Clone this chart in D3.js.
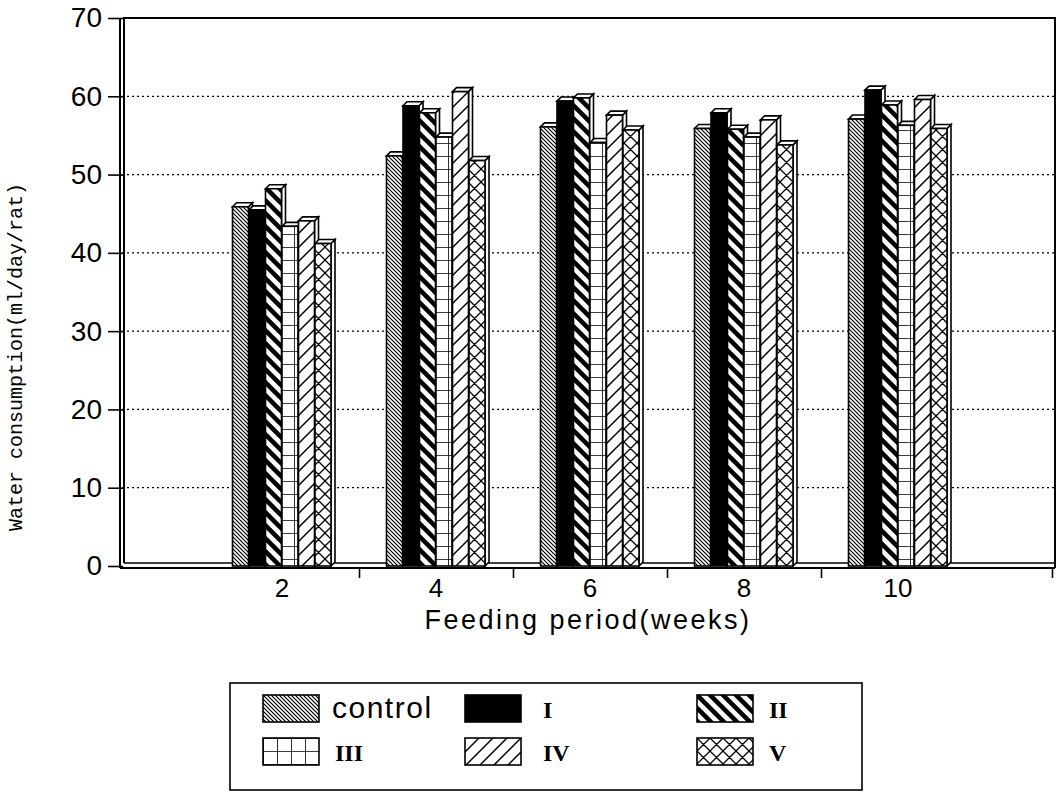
<!DOCTYPE html>
<html>
<head>
<meta charset="utf-8">
<script src="https://cdn.jsdelivr.net/npm/d3@7"></script>
<style>
  body { margin: 0; background: #fff; }
  svg { display: block; }
</style>
</head>
<body>
<div id="chart"></div>
<script>
// values
const weeks = [2, 4, 6, 8, 10];
const groups = ["control", "I", "II", "III", "IV", "V"];
const control = [46.4, 52.9, 56.6, 56.4, 57.6];
const g1 = [46.0, 59.3, 59.9, 58.4, 61.3];
const g2 = [48.7, 58.4, 60.3, 56.3, 59.4];
const g3 = [43.9, 55.3, 54.6, 55.3, 56.8];
const g4 = [44.6, 61.1, 58.1, 57.5, 60.1];
const g5 = [41.7, 52.3, 56.2, 54.3, 56.4];
const series = [control, g1, g2, g3, g4, g5];
const yTicks = [0, 10, 20, 30, 40, 50, 60, 70];
const xTickMarks = [3, 5, 7, 9, 12];

const width = 1060, height = 807;
const plotLeft = 120, plotRight = 1055, plotTop = 18, plotBottom = 566;
const depth = 4;

const svg = d3.select("#chart").append("svg")
  .attr("width", width)
  .attr("height", height);

const x = d3.scaleLinear().domain([0, 12]).range([128, 1052]);
const y = d3.scaleLinear().domain([0, 70]).range([plotBottom, plotTop]);
const inner = d3.scaleBand().domain(groups).range([-49.5, 49.5]);

// hatch patterns
const defs = svg.append("defs");
function hatch(id, w, h, d, sw) {
  const p = defs.append("pattern")
    .attr("id", id)
    .attr("patternUnits", "userSpaceOnUse")
    .attr("width", w)
    .attr("height", h);
  p.append("rect").attr("width", w).attr("height", h).attr("fill", "#fff");
  p.append("path").attr("d", d).attr("stroke", "#000").attr("stroke-width", sw).attr("fill", "none");
}
hatch("p-control", 4, 4, "M0,0L4,4M-1,3L1,5M3,-1L5,1", 1.2);
hatch("p-II", 13, 13, "M0,0L13,13M-2,11L2,15M11,-2L15,2", 4.5);
hatch("p-III", 14, 13, "M0,0H14M0,0V13", 1.6);
hatch("p-IV", 14, 14, "M0,14L14,0M-1,1L1,-1M13,15L15,13", 1.5);
hatch("p-V", 13, 13, "M0,0L13,13M0,13L13,0M-1,12L1,14M12,-1L14,1M-1,1L1,-1M12,14L14,12", 1.3);

const fills = {
  control: "url(#p-control)",
  I: "#000",
  II: "url(#p-II)",
  III: "url(#p-III)",
  IV: "url(#p-IV)",
  V: "url(#p-V)"
};

// gridlines
svg.append("g")
  .selectAll("line")
  .data(yTicks.filter(t => t > 0 && t < 70))
  .join("line")
  .attr("x1", plotLeft + 2).attr("x2", plotRight)
  .attr("y1", d => y(d)).attr("y2", d => y(d))
  .attr("stroke", "#000")
  .attr("stroke-width", 1.3)
  .attr("stroke-dasharray", "2,3");

// frame
const frame = svg.append("g").attr("stroke", "#000").attr("fill", "none");
frame.append("path")
  .attr("d", `M${plotLeft + 4},${plotBottom - 3}V${plotTop}H${plotRight}V${plotBottom + 2}`)
  .attr("stroke-width", 2);
frame.append("line")
  .attr("x1", plotLeft + 4).attr("x2", plotRight)
  .attr("y1", plotBottom - 3).attr("y2", plotBottom - 3)
  .attr("stroke-width", 1.5);

// bars
const bars = svg.append("g");
weeks.forEach((w, wi) => {
  groups.forEach((g, gi) => {
    const v = series[gi][wi];
    const x0 = x(w) + inner(g);
    const bw = inner.bandwidth() - 0.5;
    const yt = y(v) + depth;
    const y0 = y(0);
    const b = bars.append("g").attr("stroke", "#000").attr("stroke-width", 1.6);
    b.append("path")
      .attr("d", `M${x0 + bw},${yt}L${x0 + bw + depth},${yt - depth}V${y0 - depth}L${x0 + bw},${y0}Z`)
      .attr("fill", "#fff");
    b.append("path")
      .attr("d", `M${x0},${yt}L${x0 + depth},${yt - depth}H${x0 + bw + depth}L${x0 + bw},${yt}Z`)
      .attr("fill", "#fff");
    b.append("rect")
      .attr("x", x0).attr("y", yt)
      .attr("width", bw).attr("height", y0 - yt)
      .attr("fill", fills[g]);
  });
});

// y axis
const yAxis = svg.append("g")
  .attr("transform", `translate(${plotLeft},0)`)
  .call(d3.axisLeft(y).tickValues(yTicks).tickSize(12).tickPadding(6));
yAxis.select(".domain").attr("stroke-width", 2).attr("d", `M0,${plotTop}V${plotBottom + 2}`);
yAxis.selectAll(".tick line").attr("x2", -12).attr("x1", 3).attr("stroke-width", 1.6);
yAxis.selectAll("text")
  .attr("font-family", "Liberation Sans, Arial, sans-serif")
  .attr("font-size", 28)
  .attr("fill", "#000");

// x axis
const xAxis = svg.append("g")
  .attr("transform", `translate(0,${plotBottom + 2})`)
  .call(d3.axisBottom(x).tickValues(xTickMarks).tickSize(10).tickFormat(""));
xAxis.select(".domain").attr("d", `M${plotLeft},0H${plotRight}`).attr("stroke-width", 2);
xAxis.selectAll(".tick line").attr("stroke-width", 1.6);

svg.append("g")
  .selectAll("text")
  .data(weeks)
  .join("text")
  .attr("x", d => x(d))
  .attr("y", 597)
  .attr("text-anchor", "middle")
  .attr("font-family", "Liberation Sans, Arial, sans-serif")
  .attr("font-size", 26)
  .text(d => d);

svg.append("text")
  .attr("x", 588)
  .attr("y", 629)
  .attr("text-anchor", "middle")
  .attr("font-family", "Liberation Sans, Arial, sans-serif")
  .attr("font-size", 27)
  .attr("letter-spacing", 2.5)
  .text("Feeding period(weeks)");

svg.append("text")
  .attr("transform", "translate(22,357) rotate(-90)")
  .attr("text-anchor", "middle")
  .attr("font-family", "Liberation Mono, DejaVu Sans Mono, monospace")
  .attr("font-size", 20)
  .text("Water consumption(ml/day/rat)");

// legend
const legend = svg.append("g");
legend.append("rect")
  .attr("x", 230).attr("y", 683)
  .attr("width", 632).attr("height", 107)
  .attr("fill", "#fff").attr("stroke", "#000").attr("stroke-width", 1.6);

const legendCols = [263, 465, 697];
const legendRows = [695, 738];
const item = legend.selectAll("g.item")
  .data(groups)
  .join("g")
  .attr("class", "item")
  .attr("transform", (d, i) => `translate(${legendCols[i % 3]},${legendRows[Math.floor(i / 3)]})`);
item.append("rect")
  .attr("width", 56).attr("height", 27)
  .attr("fill", d => fills[d])
  .attr("stroke", "#000").attr("stroke-width", 1.6);
item.append("text")
  .attr("x", (d, i) => d === "control" ? 69 : (i % 3 === 1 ? 78 : 72))
  .attr("y", 23)
  .attr("font-family", d => d === "control" ? "Liberation Sans, Arial, sans-serif" : "Liberation Serif, Times New Roman, serif")
  .attr("font-weight", d => d === "control" ? "normal" : "bold")
  .attr("font-size", d => d === "control" ? 30 : 24)
  .attr("letter-spacing", d => d === "control" ? 1.5 : 0)
  .text(d => d);
</script>
</body>
</html>
